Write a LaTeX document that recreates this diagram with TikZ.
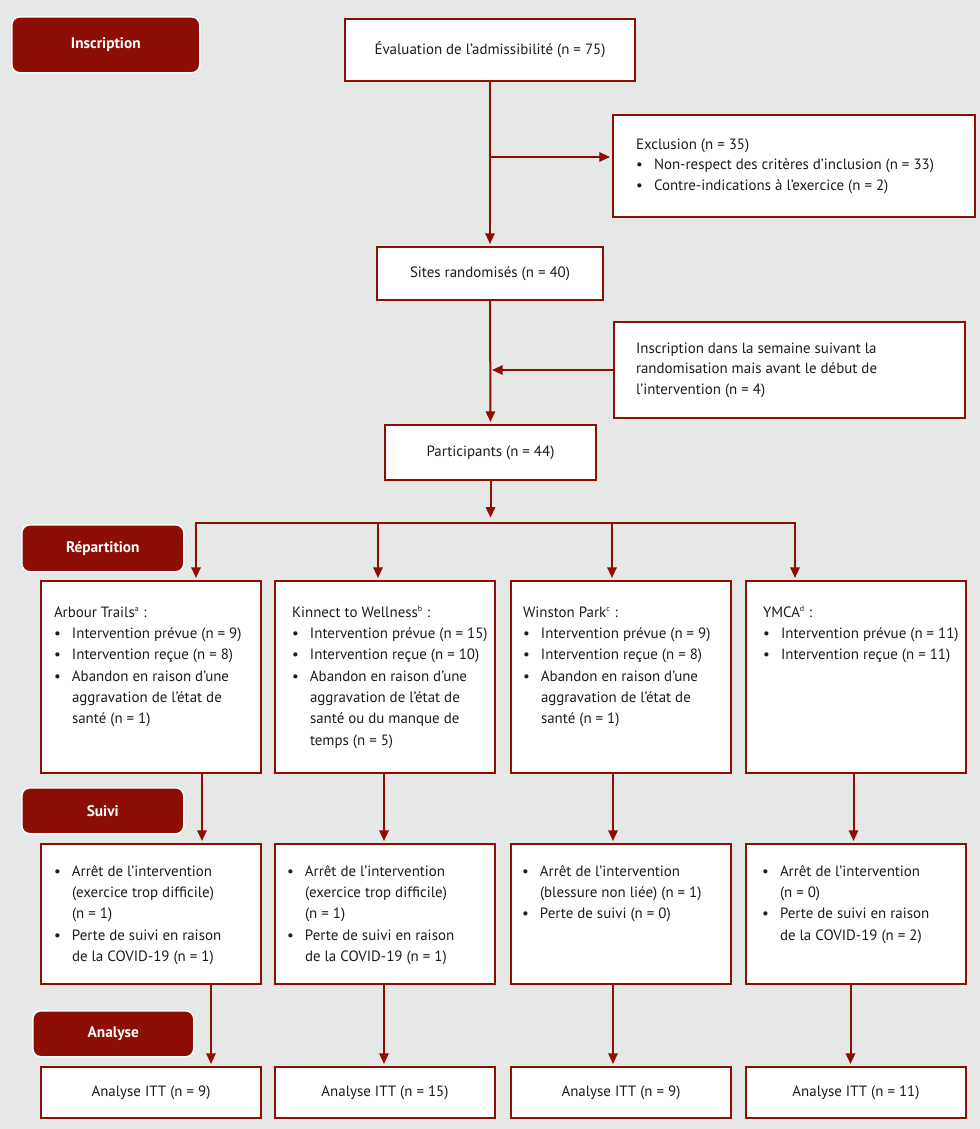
\documentclass[tikz,border=0pt]{standalone}
\usepackage{fontspec}
\setmainfont{PT Sans}
\usetikzlibrary{arrows.meta}

\definecolor{rouge}{RGB}{140,14,4}
\definecolor{fond}{RGB}{230,232,232}
\definecolor{encre}{RGB}{28,28,28}

% bullet line with hanging indent
\newcommand{\puce}{\par\hangindent=13.5pt\hangafter=1\noindent\hbox to 13.5pt{\textbullet\hfil}}
% top-aligned text block: height, width, left pad, gap before first line, text
\newcommand{\bloc}[5]{\parbox[c][#1][t]{#2}{\raggedright\leftskip=#3\relax\everypar{\strut}\vspace*{#4}#5}}
\newcommand{\appel}[1]{\textsuperscript{\fontsize{6}{6}\selectfont #1}}

\tikzset{
  boite/.style={draw=rouge, line width=1.5pt, fill=white, inner sep=0pt, anchor=north west,
    text=encre, font=\fontsize{11.2}{16}\selectfont},
  etape/.style={draw=white, line width=1.2pt, fill=rouge, rounded corners=6pt, inner sep=0pt,
    anchor=north west, text=white, font=\fontsize{11.5}{16}\selectfont\bfseries},
  ligne/.style={draw=rouge, line width=1.5pt},
  fleche/.style={ligne, -{Triangle[length=8pt,width=7pt]}, shorten >=1.5pt},
}

\begin{document}
\begin{tikzpicture}[x=0.75pt, y=-0.75pt]
  % Background
  \fill[fond] (0,0) rectangle (980,1129);
  \useasboundingbox (0,0) rectangle (980,1129);

  % Stage labels
  \node[etape, minimum width=141pt, minimum height=42pt] (lblinsc) at (11,16) {Inscription};
  \node[etape, minimum width=121.5pt, minimum height=35.25pt] (lblrep) at (21,524) {Répartition};
  \node[etape, minimum width=121.5pt, minimum height=34.5pt] (lblsuivi) at (21,787) {Suivi};
  \node[etape, minimum width=120.75pt, minimum height=34.5pt] (lblana) at (32,1010) {Analyse};

  % Enrolment
  \node[boite, minimum width=217.5pt, minimum height=46.5pt] (eval) at (344,18) {Évaluation de l’admissibilité (n = 75)};
  \node[boite, font=\fontsize{11.2}{15.5}\selectfont] (excl) at (612,114)
    {\bloc{76.5pt}{271.5pt}{17.25pt}{14.65pt}{Exclusion (n = 35)\puce Non-respect des critères d’inclusion (n = 33)\puce Contre-indications à l’exercice (n = 2)}};
  \node[boite, minimum width=169.5pt, minimum height=39.75pt] (sites) at (376,246) {Sites randomisés (n = 40)};
  \node[boite, font=\fontsize{11.2}{15.5}\selectfont] (ajout) at (613,321)
    {\bloc{72pt}{263.25pt}{16.5pt}{12.4pt}{Inscription dans la semaine suivant la\newline randomisation mais avant le début de\newline l’intervention (n = 4)}};
  \node[boite, minimum width=158.25pt, minimum height=41.25pt] (part) at (384,424) {Participants (n = 44)};

  % Allocation
  \node[boite] (r1a) at (40,580) {\bloc{144pt}{165pt}{9.75pt}{15.8pt}{Arbour Trails\appel{a} :\puce Intervention prévue (n = 9)\puce Intervention reçue (n = 8)\puce Abandon en raison d’une\newline aggravation de l’état de\newline santé (n = 1)}};
  \node[boite] (r1b) at (274,580) {\bloc{144pt}{165pt}{12.75pt}{15.8pt}{Kinnect to Wellness\appel{b} :\puce Intervention prévue (n = 15)\puce Intervention reçue (n = 10)\puce Abandon en raison d’une\newline aggravation de l’état de\newline santé ou du manque de\newline temps (n = 5)}};
  \node[boite] (r1c) at (510,580) {\bloc{144pt}{165pt}{9pt}{15.8pt}{Winston Park\appel{c} :\puce Intervention prévue (n = 9)\puce Intervention reçue (n = 8)\puce Abandon en raison d’une\newline aggravation de l’état de\newline santé (n = 1)}};
  \node[boite] (r1d) at (745,580) {\bloc{144pt}{165pt}{12.75pt}{15.8pt}{YMCA\appel{d} :\puce Intervention prévue (n = 11)\puce Intervention reçue (n = 11)}};

  % Follow-up
  \node[boite] (r2a) at (40,843) {\bloc{105pt}{165pt}{9.75pt}{12.8pt}{\puce Arrêt de l’intervention\newline (exercice trop difficile)\newline (n = 1)\puce Perte de suivi en raison\newline de la COVID-19 (n = 1)}};
  \node[boite] (r2b) at (274,843) {\bloc{105pt}{165pt}{9pt}{12.8pt}{\puce Arrêt de l’intervention\newline (exercice trop difficile)\newline (n = 1)\puce Perte de suivi en raison\newline de la COVID-19 (n = 1)}};
  \node[boite] (r2c) at (510,843) {\bloc{105pt}{165pt}{8.25pt}{12.8pt}{\puce Arrêt de l’intervention\newline (blessure non liée) (n = 1)\puce Perte de suivi (n = 0)}};
  \node[boite] (r2d) at (745,843) {\bloc{105pt}{165pt}{12pt}{12.8pt}{\puce Arrêt de l’intervention\newline (n = 0)\puce Perte de suivi en raison\newline de la COVID-19 (n = 2)}};

  % Analysis
  \node[boite, minimum width=165pt, minimum height=38.25pt] (r3a) at (40,1066) {Analyse ITT (n = 9)};
  \node[boite, minimum width=165pt, minimum height=38.25pt] (r3b) at (274,1066) {Analyse ITT (n = 15)};
  \node[boite, minimum width=165pt, minimum height=38.25pt] (r3c) at (510,1066) {Analyse ITT (n = 9)};
  \node[boite, minimum width=165pt, minimum height=38.25pt] (r3d) at (745,1066) {Analyse ITT (n = 11)};

  % Main column
  \draw[fleche] (eval.south) -- (sites.north);
  \coordinate (bexcl) at (489,157);
  \draw[fleche] (bexcl) -- (bexcl -| excl.west);
  \draw[fleche] (sites.south) -- (part.north);
  \draw[fleche] (ajout.west) -- (ajout.west -| sites.south);

  % Split into the four sites
  \coordinate (ja) at (196,523);
  \coordinate (jb) at (378,523);
  \coordinate (jc) at (612,523);
  \coordinate (jd) at (795,523);
  \draw[fleche, shorten >=4pt] (part.south) -- (part.south |- ja);
  \draw[ligne, line cap=rect] (ja) -- (jd);
  \foreach \j/\c in {ja/r1a, jb/r1b, jc/r1c, jd/r1d}
    \draw[fleche] (\j) -- (\j |- \c.north);

  % Follow-up and analysis arrows
  \foreach \c/\d/\e in {a/38.25pt/45pt, b/-0.75pt/-0.75pt, c/-6pt/-6pt, d/-1.875pt/-4.125pt} {
    \draw[fleche] ([xshift=\d]r1\c.south) -- ([xshift=\d]r2\c.north);
    \draw[fleche] ([xshift=\e]r2\c.south) -- ([xshift=\e]r3\c.north);
  }
\end{tikzpicture}
\end{document}
